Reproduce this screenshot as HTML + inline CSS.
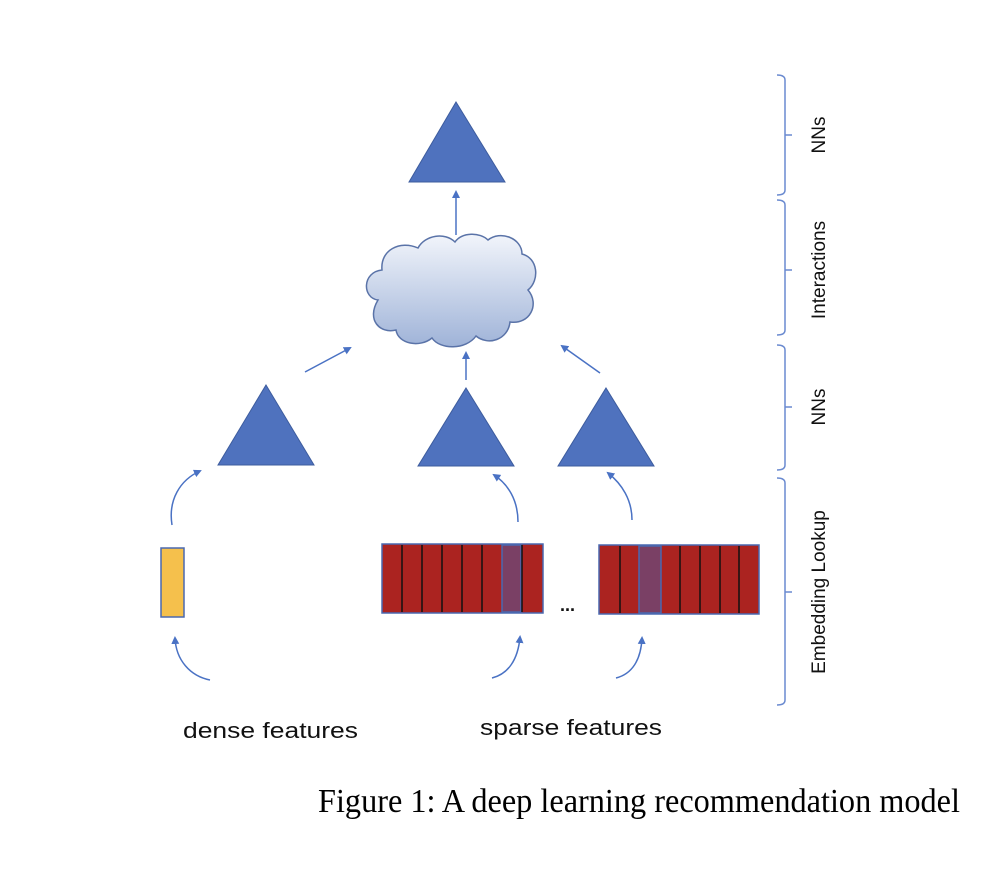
<!DOCTYPE html>
<html><head><meta charset="utf-8"><style>
html,body{margin:0;padding:0;background:#fff;}
svg{display:block}
</style></head><body>
<svg width="1002" height="884" viewBox="0 0 1002 884" xmlns="http://www.w3.org/2000/svg">
<defs>
<linearGradient id="cg" x1="0" y1="0" x2="0" y2="1">
<stop offset="0" stop-color="#f2f5fb"/><stop offset="1" stop-color="#9fb3d8"/>
</linearGradient>
<marker id="ah" markerWidth="8" markerHeight="8" refX="6" refY="4" orient="auto" markerUnits="userSpaceOnUse">
<path d="M0,0 L8,4 L0,8 Z" fill="#4a72c4"/>
</marker>
</defs>
<g fill="#4f72be" stroke="#3d5c9e" stroke-width="1">
<polygon points="456,102 505,182 409,182"/>
<polygon points="266,385 314,465 218,465"/>
<polygon points="466,388 514,466 418,466"/>
<polygon points="606,388 654,466 558,466"/>
</g>
<path d="M378,300 C362,298 362,272 382,270 C380,250 400,240 418,248 C425,235 445,232 455,242 C462,232 480,232 488,240 C500,230 522,238 522,254 C538,258 540,280 528,290 C540,304 530,325 510,322 C508,340 488,346 476,336 C466,350 440,350 432,338 C420,348 398,344 396,330 C380,334 366,320 378,300 Z" fill="url(#cg)" stroke="#5a73a8" stroke-width="1.5"/>
<g stroke="#4a72c4" stroke-width="1.5" fill="none" marker-end="url(#ah)">
<line x1="456" y1="235" x2="456" y2="192"/>
<line x1="466" y1="380" x2="466" y2="353"/>
<line x1="305" y1="372" x2="350" y2="348"/>
<line x1="600" y1="373" x2="562" y2="346"/>
<path d="M172,525 C168,500 180,480 200,471"/>
<path d="M518,522 C518,500 508,484 494,475"/>
<path d="M632,520 C632,500 622,484 608,473"/>
<path d="M210,680 C190,676 176,660 175,638"/>
<path d="M492,678 C508,674 518,660 520,637"/>
<path d="M616,678 C632,674 641,660 642,638"/>
</g>
<rect x="161" y="548" width="23" height="69" fill="#f5c04c" stroke="#4a68b0" stroke-width="1.5"/>
<g stroke="#111" stroke-width="1.5">
<rect x="382" y="544" width="161" height="69" fill="#ab2320" stroke="#4a68b0"/>
<rect x="502" y="545" width="19" height="67" fill="#7a4065" stroke="#4a68b0"/>
<line x1="402" y1="545" x2="402" y2="612"/><line x1="422" y1="545" x2="422" y2="612"/>
<line x1="442" y1="545" x2="442" y2="612"/><line x1="462" y1="545" x2="462" y2="612"/>
<line x1="482" y1="545" x2="482" y2="612"/><line x1="522" y1="545" x2="522" y2="612"/>
<rect x="599" y="545" width="160" height="69" fill="#ab2320" stroke="#4a68b0"/>
<rect x="639" y="546" width="22" height="67" fill="#7a4065" stroke="#4a68b0"/>
<line x1="620" y1="546" x2="620" y2="613"/><line x1="680" y1="546" x2="680" y2="613"/>
<line x1="700" y1="546" x2="700" y2="613"/><line x1="720" y1="546" x2="720" y2="613"/>
<line x1="739" y1="546" x2="739" y2="613"/>
</g>
<text x="560" y="611" font-family="Liberation Sans, sans-serif" font-size="18" font-weight="bold" fill="#111">...</text>
<g stroke="#6a8ad0" stroke-width="1.5" fill="none">
<path d="M777,75 Q785,75 785,80 L785,190 Q785,195 777,195 M785,135 L792,135"/>
<path d="M777,200 Q785,200 785,205 L785,330 Q785,335 777,335 M785,270 L792,270"/>
<path d="M777,345 Q785,345 785,350 L785,465 Q785,470 777,470 M785,407 L792,407"/>
<path d="M777,478 Q785,478 785,483 L785,700 Q785,705 777,705 M785,592 L792,592"/>
</g>
<g font-family="Liberation Sans, sans-serif" font-size="19" fill="#111" text-anchor="middle">
<text transform="translate(825,135) rotate(-90)">NNs</text>
<text transform="translate(825,270) rotate(-90)">Interactions</text>
<text transform="translate(825,407) rotate(-90)">NNs</text>
<text transform="translate(825,592) rotate(-90)">Embedding Lookup</text>
</g>
<g font-family="Liberation Sans, sans-serif" font-size="22" fill="#111">
<text x="183" y="738" textLength="175" lengthAdjust="spacingAndGlyphs">dense features</text>
<text x="480" y="735" textLength="182" lengthAdjust="spacingAndGlyphs">sparse features</text>
</g>
<text x="318" y="812" textLength="642" lengthAdjust="spacingAndGlyphs" font-family="Liberation Serif, serif" font-size="34" fill="#000">Figure 1: A deep learning recommendation model</text>
</svg>
</body></html>
